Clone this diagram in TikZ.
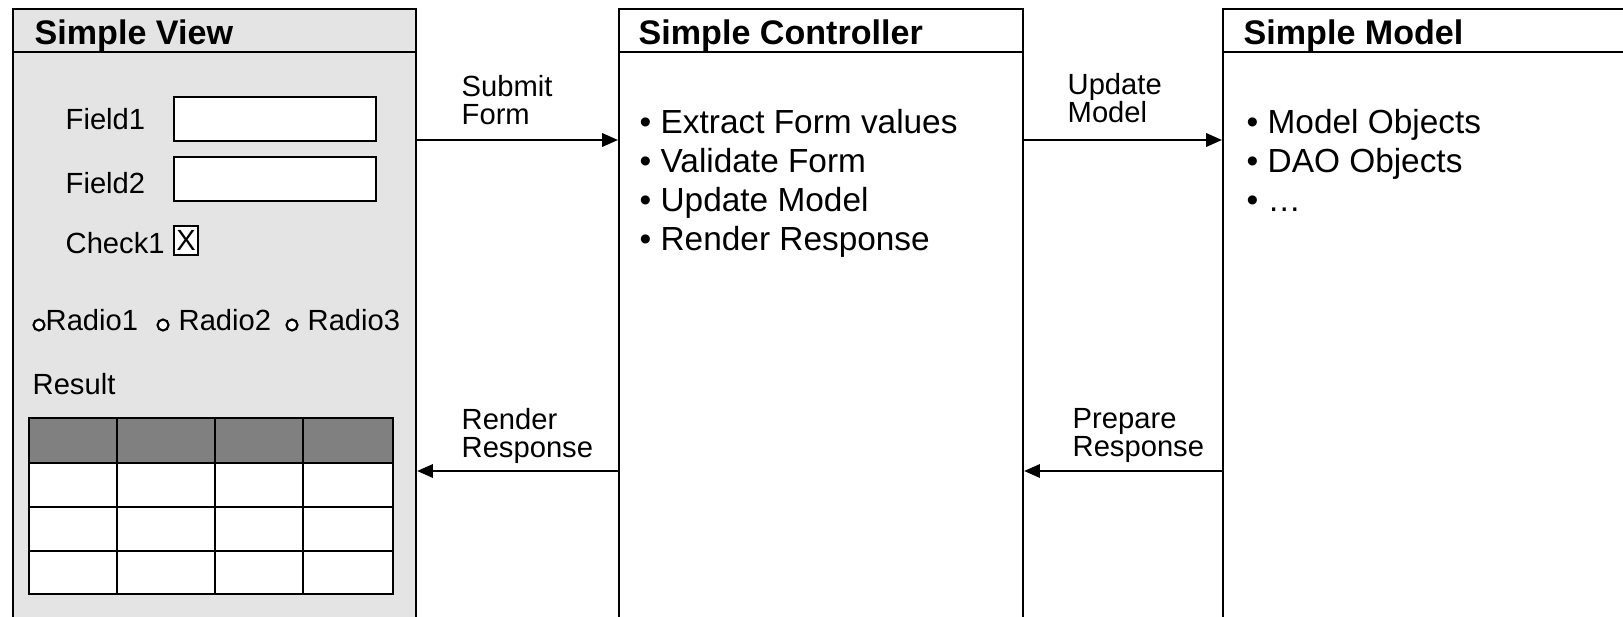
\documentclass[tikz,border=0pt]{standalone}
\usepackage{fontspec}
\setmainfont{Liberation Sans}
\usetikzlibrary{arrows.meta}
\definecolor{panelgray}{HTML}{E4E4E4}
\definecolor{headgray}{HTML}{808080}
\tikzset{
  panel/.style={draw, line width=0.6pt, anchor=north west, inner sep=0pt, minimum height=70mm},
  title/.style={anchor=base west, inner sep=0pt, font=\fontsize{9.7}{11}\selectfont\bfseries},
  small/.style={anchor=base west, inner sep=0pt, font=\fontsize{8.3}{7.8}\selectfont},
  flowlabel/.style={anchor=north west, inner sep=0pt, align=left,
    font=\fontsize{8.3}{7.8}\selectfont},
  itemlist/.style={anchor=north west, inner sep=0pt, align=left,
    font=\fontsize{9.5}{11.1}\selectfont},
  flow/.style={line width=0.6pt, -{Triangle[length=4.5pt,width=3.8pt]}},
  widget/.style={draw, line width=0.6pt, fill=white},
}
\begin{document}
\begin{tikzpicture}[x=0.1mm, y=-0.1mm]
  \useasboundingbox (0,0) rectangle (1623,617);
  \clip (0,0) rectangle (1623,617);
  % the three panels
  \node[panel, fill=panelgray, minimum width=40.3mm] (view) at (12,8) {};
  \node[panel, fill=white, minimum width=40.4mm] (ctrl) at (618,8) {};
  \node[panel, fill=white, minimum width=50mm] (model) at (1222,8) {};
  \coordinate (hdr) at (0,52);
  \foreach \p in {view, ctrl, model}
    \draw[line width=0.6pt] (\p.west |- hdr) -- (\p.east |- hdr);
  \node[title] (viewtitle) at (34,45) {Simple View};
  \node[title] (ctrltitle) at (638,45) {Simple Controller};
  \node[title] (modeltitle) at (1243,45) {Simple Model};
  % form widgets
  \node[small] (field1) at (65,129) {Field1};
  \draw[widget] (174,97) rectangle (376,141);
  \node[small] (field2) at (65,193) {Field2};
  \draw[widget] (174,157) rectangle (376,201);
  \node[small] (check1) at (65,253) {Check1};
  \draw[widget] (174,226) rectangle (198,255);
  \node[small, anchor=center] (checkmark) at (186,240.5) {X};
  \foreach \cx/\tx/\name in {39/45/Radio1, 163/178/Radio2, 292/307/Radio3} {
    \draw[widget] (\cx,325) circle (0.55mm);
    \node[small] (\name) at (\tx,330) {\name};
  }
  \node[small] (result) at (32,394) {Result};
  % result table
  \fill[white] (29,418) rectangle (393,594);
  \fill[headgray] (29,418) rectangle (393,463);
  \foreach \x in {117,215,303}
    \draw[line width=0.6pt] (\x,418) -- (\x,594);
  \foreach \y in {463,507,551}
    \draw[line width=0.6pt] (29,\y) -- (393,\y);
  \draw[line width=0.6pt] (29,418) rectangle (393,594);
  % requests and responses
  \coordinate (fwd) at (0,140);
  \coordinate (back) at (0,471);
  \draw[flow] (view.east |- fwd) -- (ctrl.west |- fwd);
  \draw[flow] (ctrl.east |- fwd) -- (model.west |- fwd);
  \draw[flow] (model.west |- back) -- (ctrl.east |- back);
  \draw[flow] (ctrl.west |- back) -- (view.east |- back);
  \node[flowlabel] (submit) at (461,75) {Submit\\Form};
  \node[flowlabel] (update) at (1067,73) {Update\\Model};
  \node[flowlabel] (render) at (461,408) {Render\\Response};
  \node[flowlabel] (prepare) at (1072,408) {Prepare\\Response};
  % panel contents
  \node[itemlist] (ctrlitems) at (639,109) {\textbullet\ Extract Form values\\
    \textbullet\ Validate Form\\ \textbullet\ Update Model\\ \textbullet\ Render Response};
  \node[itemlist] (modelitems) at (1246,109) {\textbullet\ Model Objects\\
    \textbullet\ DAO Objects\\ \textbullet\ \ldots};
\end{tikzpicture}
\end{document}
